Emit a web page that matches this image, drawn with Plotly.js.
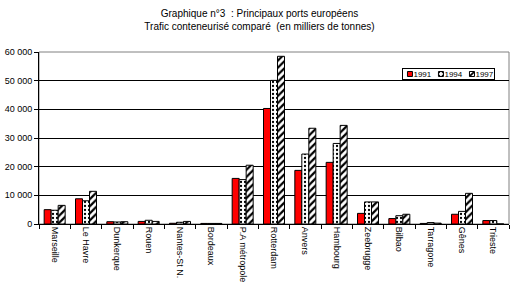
<!DOCTYPE html>
<html>
<head>
<meta charset="utf-8">
<script src="https://cdn.plot.ly/plotly-3.0.1.min.js"></script>
<style>html,body{margin:0;padding:0;background:#fff;}#chart{width:519px;height:289px;}</style>
</head>
<body>
<div id="chart"></div>
<script>
var ports = ["Marseille","Le Havre","Dunkerque","Rouen","Nantes-St N.","Bordeaux","P.A métropole","Rotterdam","Anvers","Hambourg","Zeebrugge","Bilbao","Tarragone","Gênes","Trieste"];
var v1991 = [5000, 8800, 800, 900, 250, 200, 15900, 40300, 18700, 21500, 3700, 1900, 200, 3400, 1200];
var v1994 = [4800, 8100, 700, 1300, 600, 200, 15500, 50100, 24400, 28100, 7700, 2900, 500, 4400, 1200];
var v1997 = [6500, 11400, 800, 900, 900, 200, 20500, 58500, 33400, 34400, 7700, 3400, 300, 10700, 0];
var years = ["1991","1994","1997"];
var titleLines = ["Graphique n°3  : Principaux ports européens", "Trafic conteneurisé comparé  (en milliers de tonnes)"];

var font = {family: "Liberation Sans, Arial, sans-serif", size: 9, color: "#000"};
var line = {color: "#000", width: 1};

var traces = [
  {type: "bar", name: years[0], x: ports, y: v1991,
   marker: {color: "#ff0000", line: line}},
  {type: "bar", name: years[1], x: ports, y: v1994,
   marker: {color: "#ffffff", line: line,
            pattern: {shape: ".", fgcolor: "#000", bgcolor: "#fff", size: 4, solidity: 0.25}}},
  {type: "bar", name: years[2], x: ports, y: v1997,
   marker: {color: "#ffffff", line: line,
            pattern: {shape: "/", fgcolor: "#000", bgcolor: "#fff", size: 5, solidity: 0.45}}}
];

var layout = {
  width: 519, height: 289,
  margin: {l: 39, r: 10, t: 52, b: 65},
  paper_bgcolor: "#fff", plot_bgcolor: "#fff",
  font: font,
  separators: ", ",
  title: {text: titleLines.join("<br>"),
          font: {family: font.family, size: 10, color: "#000"},
          x: 0.5, xanchor: "center", yref: "container", y: 0.94, yanchor: "middle"},
  barmode: "group", bargap: 0.33, bargroupgap: 0,
  showlegend: true,
  legend: {orientation: "h", x: 0.968, xanchor: "right", y: 0.907, yanchor: "top",
           bgcolor: "#fff", bordercolor: "#000", borderwidth: 1,
           font: {family: font.family, size: 8, color: "#000"},
           itemwidth: 30, tracegroupgap: 0, traceorder: "normal"},
  xaxis: {type: "category", showgrid: false, showline: true, linecolor: "#000", linewidth: 1,
          ticks: "outside", tickson: "boundaries", ticklen: 4, tickcolor: "#000",
          tickangle: 90, tickfont: font, zeroline: false},
  yaxis: {range: [0, 60000], dtick: 10000, tickformat: ",d", showgrid: true, gridcolor: "#000", gridwidth: 1,
          showline: true, linecolor: "#000", linewidth: 1,
          ticks: "outside", ticklen: 4, tickcolor: "#000", tickfont: font,
          zeroline: false, fixedrange: true},
  shapes: [{type: "rect", xref: "paper", yref: "paper", x0: 0, x1: 1, y0: 0, y1: 1,
            line: {color: "#808080", width: 1}, layer: "below"}]
};

// compact the legend box (the reference's legend is a small boxed row)
function compactLegend(gd) {
  try {
    var leg = gd.querySelector("g.legend");
    if (!leg) return;
    var fl = gd._fullLayout;
    var boxW = 92, boxH = 11, step = 31;
    var right = fl.margin.l + fl._size.w * fl.legend.x;
    var top = fl.margin.t + fl._size.h * (1 - fl.legend.y);
    leg.setAttribute("transform", "translate(" + (right - boxW) + "," + top + ")");
    var bg = leg.querySelector("rect.bg");
    if (bg) { bg.setAttribute("width", boxW); bg.setAttribute("height", boxH); bg.setAttribute("x", 0.5); bg.setAttribute("y", 0.5); }
    var sb = leg.querySelector("g.scrollbox");
    if (sb) sb.setAttribute("transform", "translate(0,0)");
    var items = leg.querySelectorAll("g.traces");
    items.forEach(function (it, i) {
      it.setAttribute("transform", "translate(" + (5 + i * step) + "," + (boxH / 2 + 0.5) + ")");
      var p = it.querySelector("g.legendpoints path");
      if (p) { p.setAttribute("d", "M2.5,2.5H-2.5V-2.5H2.5Z"); p.setAttribute("transform", "translate(3,0)"); }
      var t = it.querySelector("text.legendtext");
      if (t) {
        t.setAttribute("x", 6.5);
        t.querySelectorAll("tspan").forEach(function (s) { if (s.hasAttribute("x")) s.setAttribute("x", 6.5); });
      }
      var tg = it.querySelector("rect.legendtoggle");
      if (tg) tg.setAttribute("width", 0);
    });
  } catch (e) {}
}

var gd = document.getElementById("chart");
Plotly.newPlot(gd, traces, layout, {displayModeBar: false, staticPlot: true}).then(function () { compactLegend(gd); });
</script>
</body>
</html>
